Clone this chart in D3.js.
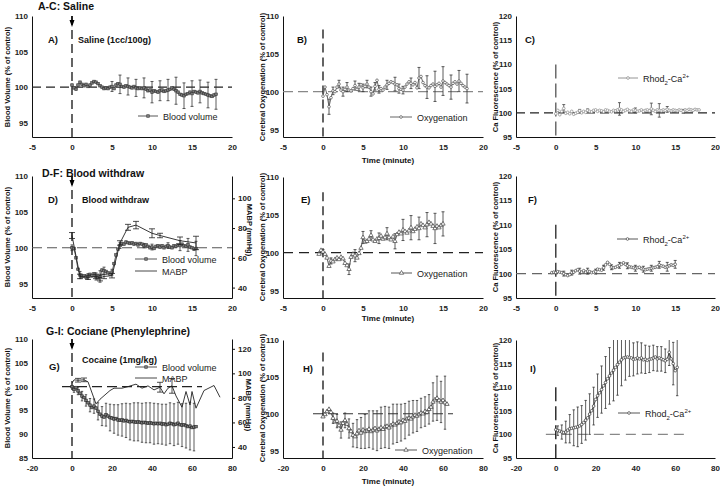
<!DOCTYPE html>
<html><head><meta charset="utf-8">
<script src="https://cdn.jsdelivr.net/npm/d3@7"></script>
<style>body{margin:0;background:#fff}svg{display:block}text{font-family:"Liberation Sans",Arial,sans-serif}</style>
</head><body><svg id="c" width="720" height="486"></svg>
<script>
// ---------- DATA ----------
const tickMin20 = [-5,0,5,10,15,20];
const tickMin80 = [-20,0,20,40,60,80];
const ticksBV = [95,100,105,110];
const ticksBVG = [85,90,95,100,105,110];
const ticksCa = [95,100,105,110,115,120];
const ticksMabpD = [40,60,80,100];
const ticksMabpG = [40,60,80,100,120];

const tQ18 = [0,0.25,0.5,0.75,1,1.25,1.5,1.75,2,2.25,2.5,2.75,3,3.25,3.5,3.75,4,4.25,4.5,4.75,5,5.25,5.5,5.75,6,6.25,6.5,6.75,7,7.25,7.5,7.75,8,8.25,8.5,8.75,9,9.25,9.5,9.75,10,10.25,10.5,10.75,11,11.25,11.5,11.75,12,12.25,12.5,12.75,13,13.25,13.5,13.75,14,14.25,14.5,14.75,15,15.25,15.5,15.75,16,16.25,16.5,16.75,17,17.25,17.5,17.75,18];
const bvA = [100.3,99.9,99.7,100.3, 100.7,100.4,100.2,100.4, 100.1,100.3,100.6,100.8, 100.7,100.5,100.2,100.0, 99.8,99.9,99.8,100.0, 100.1,99.8,100.3,100.5, 100.4,100.1,100.0,100.2, 100.1,100.0,99.9,100.1, 99.9,99.8,99.9,99.8, 99.9,99.7,99.5,99.6, 99.3,99.5,99.4,99.3, 99.5,99.6,99.4,99.5, 99.6,99.7,99.9,99.7, 99.5,99.3,99.0,98.9, 98.8,99.0,99.1,99.3, 99.1,99.4,99.3,99.2, 99.4,99.2,99.1,99.0, 98.9,98.8,98.7,98.9, 99.0];
const errTA = [5,6,7,8,9,10,11,12,13,14,15,16,17,18];
const errA = [0.7,1.3,1.2,1.2,1.4,1.5,1.4,1.5,1.9,1.8,1.8,1.6,1.8,2.1];

const oxB = [99.4,100.6,99.6,98.0, 99.2,100.1,100.0,100.6, 101.0,100.2,100.0,100.3, 100.6,100.2,100.1,100.4, 100.8,100.3,100.6,100.9, 100.5,100.7,101.0,100.6, 100.0,99.7,100.7,101.5, 100.3,100.4,100.2,100.6, 100.9,101.1,101.3,101.2, 101.0,100.9,100.4,100.3, 100.2,100.6,101.0,101.3, 101.1,100.9,101.2,100.5, 101.8,102.0,101.2,100.8, 100.6,100.5,100.8,101.0, 100.7,100.9,101.1,100.6, 101.4,101.2,101.0,100.8, 100.6,101.1,101.3,101.0, 101.4,101.1,100.8,100.6, 100.4];
const errTB = [0.75,1.25,2,2.5,3,4,4.5,5,5.5,6,6.5,7,8,9,9.5,10,11,12,13,14,15,16,17,18];
const errB = [1.0,0.5,0.5,0.6,0.6,0.6,0.5,0.5,0.5,0.6,0.5,0.5,0.6,0.9,0.6,0.5,0.7,1.4,1.5,2.0,1.9,1.6,1.4,1.9];

const caC = [99.8,100.5,99.6,100.3, 100.9,99.9,100.1,99.8, 100.3,99.7,99.9,100.1, 100.4,100.0,100.3,100.1, 100.5,100.3,100.2,100.5, 100.6,100.3,100.5,100.4, 100.2,100.6,100.5,100.3, 100.2,100.5,100.4,100.6, 100.8,100.6,100.3,100.5, 100.7,100.4,100.3,100.6, 100.5,100.3,100.4,100.6, 100.3,100.5,100.6,100.4, 100.8,100.5,100.3,100.6, 100.5,100.4,100.6,100.5, 100.7,100.5,100.4,100.6, 100.5,100.4,100.6,100.5, 100.3,100.6,100.5,100.7, 100.6,100.5,100.7,100.6, 100.6];
const errTC = [1,3,4,8,10,12,13,14,16];
const errC = [0.8,0.3,0.3,1.3,0.5,1.2,1.4,0.6,0.4];

const tD = [0,0.25,0.5,0.75,1,1.25,1.5,1.75,2,2.25,2.5,2.75,3,3.25,3.5,3.75,4,4.25,4.5,4.75,5,5.25,5.5,5.75,6,6.25,6.5,6.75,7,7.25,7.5,7.75,8,8.25,8.5,8.75,9,9.25,9.5,9.75,10,10.25,10.5,10.75,11,11.25,11.5,11.75,12,12.25,12.5,12.75,13,13.25,13.5,13.75,14,14.25,14.5,14.75,15,15.25,15.5];
const bvD = [100.0,99.9,98.6,97.0, 96.2,96.0,96.1,95.9, 96.0,96.3,96.1,96.4, 96.0,95.8,96.0,96.9, 96.8,96.7,96.5,96.3, 96.6,97.8,99.0,99.8, 100.3,100.6,100.5,100.8, 100.7,100.6,100.7,100.5, 100.6,100.4,100.6,100.5, 100.3,100.4,100.2,100.0, 100.1,99.9,100.2,100.3, 100.1,100.3,100.0,100.2, 100.3,100.1,100.0,100.3, 100.2,100.4,100.3,100.5, 100.3,100.2,100.4,100.1, 100.0,99.8,99.9];
const errTD = [0,1,2,3,3.5,4,5,6,9,10,12,13.5,14.5,15.5];
const errD = [0.4,0.5,0.4,0.5,0.8,0.5,0.4,0.4,0.3,0.4,0.4,0.7,0.9,1.0];
const tMabpD = [0,1,2,3,3.5,4,5,6,7,8,10,11,13.5,15.5];
const mabpD = [75,47.5,47,47.5,46.5,47.5,48,70,80.5,82,76.5,75,71.5,70];
const errMabpD = [2,1.5,1.5,1.5,2,1.5,1.5,1.5,2,2.5,3,1.5,2.5,4.5];

const tE = [-0.5,-0.25,0,0.25,0.5,0.75,1,1.25,1.5,1.75,2,2.25,2.5,2.75,3,3.25,3.5,3.75,4,4.25,4.5,4.75,5,5.25,5.5,5.75,6,6.25,6.5,6.75,7,7.25,7.5,7.75,8,8.25,8.5,8.75,9,9.25,9.5,9.75,10,10.25,10.5,10.75,11,11.25,11.5,11.75,12,12.25,12.5,12.75,13,13.25,13.5,13.75,14,14.25,14.5,14.75,15];
const oxE = [99.8,100.3, 100.1,99.8,99.3,98.2, 98.9,98.8,99.1,99.3, 99.1,99.4,99.2,98.6, 98.3,97.8,99.4,99.8, 99.6,99.3,99.9,100.6, 102.0,101.4,101.5,101.8, 102.3,101.7,101.5,101.8, 101.9,102.2,101.8,102.0, 102.5,102.0,101.7,102.1, 101.5,102.4,102.7,102.5, 103.0,102.8,102.6,102.9, 103.3,102.8,103.1,103.4, 103.2,103.8,103.6,103.3, 103.7,104.0,103.8,103.5, 103.2,103.5,103.3,103.6, 103.8];
const errTE = [0,1,3.25,4,5,6,7,8,9,10,11,12,13,14,15];
const errE = [0.3,0.4,0.7,0.8,0.8,0.6,0.7,0.8,1.0,1.4,1.6,1.5,1.6,2.0,1.6];

const caF = [100.2,100.3, 100.2,100.4,100.3,100.2, 100.0,99.8,99.6,99.8, 100.2,100.3,100.6,100.8, 100.5,100.3,100.6,100.3, 100.5,100.4,100.2,100.3, 100.4,100.9,100.8,100.7, 101.2,101.8,102.3,101.9, 101.3,101.2,101.3,101.5, 101.7,101.9,102.2,101.9, 101.6,101.4,101.3,101.2, 101.1,101.2,101.3,101.0, 100.9,100.8,100.9,101.0, 101.1,101.2,101.3,101.4, 101.8,101.6,101.5,101.3, 101.4,101.6,101.8,101.7, 101.9];
const errTF = [1,2,3,4,5,6,7,8,9,10,11,12,13,14,15];
const errF = [0.5,0.5,0.6,0.6,0.5,0.5,0.5,0.6,0.6,0.6,0.6,0.6,0.7,0.9,0.8];

const tMin = [0,1,2,3,4,5,6,7,8,9,10,11,12,13,14,15,16,17,18,19,20,21,22,23,24,25,26,27,28,29,30,31,32,33,34,35,36,37,38,39,40,41,42,43,44,45,46,47,48,49,50,51,52,53,54,55,56,57,58,59,60,61,62];
const bvG = [100.0,99.4,99.8,99.1,98.6,98.0,97.7,97.1,96.6,96.1, 95.6,95.9,95.5,94.8,94.2,93.8,93.6,94.1,93.8,93.5, 93.4,93.2,93.3,93.0,92.9,93.0,92.8,92.9,92.7,92.6, 92.7,92.6,92.5,92.6,92.5,92.4,92.5,92.4,92.3,92.4, 92.3,92.2,92.3,92.2,92.3,92.1,92.2,92.0,92.1,92.3, 92.2,92.0,92.1,92.3,92.0,91.9,92.0,91.8,91.6,91.7, 91.4,91.5,91.6];
const errTG = [1,3,5,7,9,11,13,15,17,19,21,23,25,27,29,31,33,35,37,39,41,43,45,47,49,51,53,55,57,59,61];
const errG = [0.6,0.8,1.0,1.2,1.4,1.5,1.8,2.0,2.4,2.8,3.0,3.2,3.4,3.6,3.8,4.0,4.0,4.1,4.2,4.2,4.3,4.2,4.2,4.3,4.3,4.4,4.4,4.5,4.7,5.0,5.0];
const tMabpG = [0,1,3,6,8,12,14,19,21,25,28,32,35,38,41,44,46,48,50,52,55,57,59,60,62,66,71,74];
const mabpG = [92.0,94.7,94.4,94.7,93.1,75.1,78.9,86.0,87.9,87.9,89.2,91.2,87.9,89.8,86.5,88.7,83.3,87.9,89.8,81.6,72.4,85.2,74.3,85.2,71.6,86.0,90.1,80.5];
const errTMabpG = [3,6,44,50];
const errMabpG = [1.5,1.5,4,6];

const oxH = [99.6,99.9,100.3,100.6,100.2,99.4,98.9,99.0,98.4,97.8, 98.7,99.1,98.6,98.0,97.6,97.1,96.9,97.3,97.7,97.4, 97.8,97.6,97.7,97.9,97.6,97.8,98.0,97.7,97.9,98.1, 97.9,98.2,98.3,98.1,98.4,98.6,98.5,98.7,98.9,98.8, 99.1,99.0,99.3,99.4,99.3,99.6,99.8,99.7,99.9,100.1, 100.0,100.3,100.2,100.6,100.9,101.6,101.9,102.1,101.8,101.6, 101.8,101.5,101.3];
const errTH = [5,7,9,11,13,15,17,19,21,23,25,27,29,31,33,35,37,39,41,43,45,47,49,51,53,55,57,59,61];
const errH = [0.7,0.9,1.1,1.0,1.3,1.6,1.9,2.1,2.3,2.5,2.6,2.7,2.8,2.8,2.8,2.7,2.6,2.5,2.4,2.3,2.2,2.1,2.0,2.0,2.0,2.6,3.0,2.8,3.6];

const caI = [101.0,100.8,100.7,100.5,100.4,100.5,100.9,101.2,101.3,101.4, 101.5,101.6,101.8,102.1,102.5,103.0,103.5,104.3,105.0,106.0, 107.4,108.2,108.8,109.5,110.3,111.0,111.8,112.4,113.0,113.6, 114.2,114.8,115.3,115.8,116.2,116.3,116.4,116.3,116.2,115.9, 116.0,116.2,116.0,116.2,115.8,115.9,115.7,115.9,116.0,116.2, 116.4,116.0,116.2,116.0,115.8,115.6,115.9,117.4,116.0,115.0, 113.5,114.2];
const errTI = [1,3,5,7,9,11,13,15,17,19,21,23,25,27,29,31,33,35,37,39,41,43,45,47,49,51,53,55,57,59,61];
const errI = [1.0,1.5,2.3,3.0,3.8,4.2,4.0,4.2,4.3,4.0,4.6,5.0,5.5,6.0,6.5,6.5,5.5,4.8,4.0,3.5,3.4,3.2,3.0,2.8,2.7,2.6,2.6,2.5,2.8,4.5,6.0];

// ---------- DRAWING ----------
const svg = d3.select('#c');
const zip = (a, b) => a.slice(0, Math.min(a.length, b.length)).map((t, i) => [t, b[i]]);

function marker(g, kind, cx, cy, col) {
  if (kind === 'sq') {
    g.append('rect').attr('x', cx - 1.3).attr('y', cy - 1.3).attr('width', 2.6).attr('height', 2.6)
      .attr('fill', '#777').attr('stroke', col).attr('stroke-width', 0.6);
  } else if (kind === 'tri') {
    g.append('path').attr('d', d3.symbol(d3.symbolTriangle, 8)()).attr('transform', `translate(${cx},${cy})`)
      .attr('fill', '#fff').attr('stroke', col).attr('stroke-width', 0.7);
  } else {
    g.append('circle').attr('cx', cx).attr('cy', cy).attr('r', 1.35)
      .attr('fill', '#fff').attr('stroke', col).attr('stroke-width', 0.7);
  }
}

function errBars(g, x, y, pts, et, ev, col, cap) {
  const yd = y.domain();
  et.forEach((t, i) => {
    const p = pts.find(d => Math.abs(d[0] - t) < 1e-6);
    if (!p) return;
    const lo = Math.max(yd[0], p[1] - ev[i]), hi = Math.min(yd[1], p[1] + ev[i]);
    const X = x(t);
    g.append('line').attr('x1', X).attr('x2', X).attr('y1', y(lo)).attr('y2', y(hi)).attr('stroke', col).attr('stroke-width', 0.8);
    [[lo, p[1] - ev[i]], [hi, p[1] + ev[i]]].forEach(([v, raw]) => {
      if (Math.abs(v - raw) < 1e-6)
        g.append('line').attr('x1', X - cap).attr('x2', X + cap).attr('y1', y(v)).attr('y2', y(v)).attr('stroke', col).attr('stroke-width', 0.8);
    });
  });
}

function series(g, x, y, pts, kind, col, lineCol) {
  g.append('path').datum(pts).attr('fill', 'none').attr('stroke', lineCol).attr('stroke-width', 0.9)
    .attr('d', d3.line().x(d => x(d[0])).y(d => y(d[1])));
  if (kind) pts.forEach(d => marker(g, kind, x(d[0]), y(d[1]), col));
}

function axes(g, x, y, xt, yt) {
  const bx = g.append('g').attr('transform', `translate(0,${y.range()[0]})`)
    .call(d3.axisBottom(x).tickValues(xt).tickSize(0).tickSizeOuter(0).tickPadding(7).tickFormat(d => String(d)));
  const ly = g.append('g').attr('transform', `translate(${x.range()[0]},0)`)
    .call(d3.axisLeft(y).tickValues(yt).tickSize(0).tickSizeOuter(0).tickPadding(4).tickFormat(d => String(d)));
  [bx, ly].forEach(a => {
    a.select('.domain').attr('stroke', '#111').attr('stroke-width', 1);
    a.selectAll('text').attr('font-size', 8).attr('font-weight', 'bold').attr('fill', '#222')
      .attr('font-family', '"Liberation Sans",Arial,sans-serif');
  });
}

function refLines(g, x, y, hx, vTop, hCol, hDash, vCol, vDash) {
  g.append('line').attr('x1', x(hx[0])).attr('x2', x(hx[1])).attr('y1', y(100)).attr('y2', y(100))
    .attr('stroke', hCol).attr('stroke-width', 1.2).attr('stroke-dasharray', hDash);
  g.append('line').attr('x1', x(0)).attr('x2', x(0)).attr('y1', y(vTop)).attr('y2', y.range()[0])
    .attr('stroke', vCol).attr('stroke-width', 1.3).attr('stroke-dasharray', vDash);
}

function arrow(g, X, Y0) {
  g.append('line').attr('x1', X).attr('x2', X).attr('y1', Y0).attr('y2', Y0 + 6).attr('stroke', '#000').attr('stroke-width', 1.3);
  g.append('path').attr('d', `M${X - 2.5},${Y0 + 4}L${X + 2.5},${Y0 + 4}L${X},${Y0 + 11}Z`).attr('fill', '#000');
}

function txt(x, y, s, size, weight, anchor, rot) {
  const t = svg.append('text').attr('x', x).attr('y', y).text(s).attr('font-size', size)
    .attr('font-weight', weight || 'normal').attr('fill', '#111').attr('text-anchor', anchor || 'start');
  if (rot) t.attr('transform', `rotate(${rot},${x},${y})`);
  return t;
}

function legend(g, x0, x1, yy, label, kind, col, isRhod) {
  g.append('line').attr('x1', x0).attr('x2', x1).attr('y1', yy).attr('y2', yy).attr('stroke', col).attr('stroke-width', 0.9);
  if (kind) marker(g, kind, (x0 + x1) / 2, yy, col);
  const t = g.append('text').attr('x', x1 + 5).attr('y', yy + 3.5).attr('font-size', 9).attr('fill', '#222');
  if (isRhod) {
    t.append('tspan').text('Rhod');
    t.append('tspan').attr('dy', 3).attr('font-size', 6).text('2');
    t.append('tspan').attr('dy', -3).text('-Ca');
    t.append('tspan').attr('dy', -4).attr('font-size', 6).text('2+');
  } else t.text(label);
}

// ---- Panel A ----
{
  const g = svg.append('g');
  const x = d3.scaleLinear().domain([-5, 20]).range([32, 232]);
  const y = d3.scaleLinear().domain([93, 110]).range([137, 16]);
  axes(g, x, y, tickMin20, ticksBV);
  refLines(g, x, y, [-5, 20], 110, '#222', '9,5', '#111', '9,5');
  arrow(g, x(0), 16);
  const pts = zip(tQ18, bvA);
  errBars(g, x, y, pts, errTA, errA, '#333', 1.5);
  series(g, x, y, pts, 'sq', '#333', '#444');
  legend(g, 138, 158, 116, 'Blood volume', 'sq', '#444');
  txt(48, 43, 'A)', 9.5, 'bold');
  txt(78, 43, 'Saline (1cc/100g)', 9, 'bold');
}
// ---- Panel B ----
{
  const g = svg.append('g');
  const x = d3.scaleLinear().domain([-5, 20]).range([283, 483]);
  const y = d3.scaleLinear().domain([94, 110]).range([137, 16]);
  axes(g, x, y, tickMin20, ticksBV);
  refLines(g, x, y, [-5, 20], 108.2, '#888', '10,5', '#111', '9,5');
  const pts = zip(tQ18, oxB);
  errBars(g, x, y, pts, errTB, errB, '#333', 1.5);
  series(g, x, y, pts, 'circ', '#555', '#555');
  legend(g, 390, 412, 117, 'Oxygenation', 'circ', '#555');
  txt(297, 43, 'B)', 9.5, 'bold');
}
// ---- Panel C ----
{
  const g = svg.append('g');
  const x = d3.scaleLinear().domain([-5, 20]).range([516, 715]);
  const y = d3.scaleLinear().domain([95, 120]).range([137, 16]);
  axes(g, x, y, tickMin20, ticksCa);
  refLines(g, x, y, [-5, 20], 110, '#222', '9,5', '#555', '14,5');
  const pts = zip(tQ18, caC);
  errBars(g, x, y, pts, errTC, errC, '#444', 1.5);
  series(g, x, y, pts, 'circ', '#888', '#999');
  legend(g, 618, 638, 78, '', 'circ', '#888', true);
  txt(525, 43, 'C)', 9.5, 'bold');
}
// ---- Panel D ----
{
  const g = svg.append('g');
  const x = d3.scaleLinear().domain([-5, 20]).range([32, 232]);
  const y = d3.scaleLinear().domain([93, 110]).range([298, 176]);
  const yR = d3.scaleLinear().domain([33, 115]).range([298, 176]);
  axes(g, x, y, tickMin20, ticksBV);
  const ra = g.append('g').attr('transform', 'translate(232,0)')
    .call(d3.axisRight(yR).tickValues(ticksMabpD).tickSize(3).tickSizeOuter(0).tickPadding(3));
  ra.select('.domain').attr('stroke', '#111');
  ra.selectAll('line').attr('stroke', '#111');
  ra.selectAll('text').attr('font-size', 8).attr('font-weight', 'bold').attr('fill', '#222');
  refLines(g, x, y, [-5, 20], 110, '#555', '10,5', '#111', '9,5');
  arrow(g, x(0), 176);
  const pts = zip(tD, bvD);
  errBars(g, x, y, pts, errTD, errD, '#333', 1.5);
  series(g, x, y, pts, 'sq', '#333', '#444');
  const mp = zip(tMabpD, mabpD);
  errBars(g, x, yR, mp, tMabpD, errMabpD, '#222', 3);
  series(g, x, yR, mp, null, '#222', '#222');
  legend(g, 135, 157, 259, 'Blood volume', 'sq', '#444');
  legend(g, 135, 157, 271, 'MABP', null, '#333');
  txt(48, 203, 'D)', 9.5, 'bold');
  txt(82, 203, 'Blood withdraw', 9, 'bold');
}
// ---- Panel E ----
{
  const g = svg.append('g');
  const x = d3.scaleLinear().domain([-5, 20]).range([283, 483]);
  const y = d3.scaleLinear().domain([94, 110]).range([298, 177]);
  axes(g, x, y, tickMin20, ticksBV);
  refLines(g, x, y, [-5, 20], 108, '#222', '10,6', '#111', '9,5');
  const pts = zip(tE, oxE);
  errBars(g, x, y, pts, errTE, errE, '#333', 1.5);
  series(g, x, y, pts, 'tri', '#444', '#444');
  legend(g, 391, 412, 273, 'Oxygenation', 'tri', '#444');
  txt(301, 203, 'E)', 9.5, 'bold');
}
// ---- Panel F ----
{
  const g = svg.append('g');
  const x = d3.scaleLinear().domain([-5, 20]).range([516, 715]);
  const y = d3.scaleLinear().domain([95, 120]).range([298, 176]);
  axes(g, x, y, tickMin20, ticksCa);
  refLines(g, x, y, [-5, 20], 110, '#666', '10,6', '#222', '14,5');
  const pts = zip(tE, caF);
  errBars(g, x, y, pts, errTF, errF, '#333', 1.5);
  series(g, x, y, pts, 'circ', '#444', '#555');
  legend(g, 617, 638, 239, '', 'circ', '#444', true);
  txt(528, 203, 'F)', 9.5, 'bold');
}
// ---- Panel G ----
{
  const g = svg.append('g');
  const x = d3.scaleLinear().domain([-20, 80]).range([32, 232]);
  const y = d3.scaleLinear().domain([85, 110]).range([458, 339]);
  const yR = d3.scaleLinear().domain([31, 128]).range([458, 339]);
  axes(g, x, y, tickMin80, ticksBVG);
  const ra = g.append('g').attr('transform', 'translate(232,0)')
    .call(d3.axisRight(yR).tickValues(ticksMabpG).tickSize(3).tickSizeOuter(0).tickPadding(3));
  ra.select('.domain').attr('stroke', '#111');
  ra.selectAll('line').attr('stroke', '#111');
  ra.selectAll('text').attr('font-size', 8).attr('font-weight', 'bold').attr('fill', '#222');
  refLines(g, x, y, [-5, 65], 110, '#222', '10,5', '#111', '9,5');
  arrow(g, x(0), 339);
  const pts = zip(tMin, bvG);
  errBars(g, x, y, pts, errTG, errG, '#333', 1.2);
  series(g, x, y, pts, 'sq', '#222', '#222');
  const mp = zip(tMabpG, mabpG);
  errBars(g, x, yR, mp, errTMabpG, errMabpG, '#222', 3);
  series(g, x, yR, mp, null, '#222', '#222');
  legend(g, 135, 157, 367, 'Blood volume', 'sq', '#444');
  legend(g, 135, 157, 378, 'MABP', null, '#333');
  txt(49, 370, 'G)', 9.5, 'bold');
  txt(82, 363, 'Cocaine (1mg/kg)', 9, 'bold');
}
// ---- Panel H ----
{
  const g = svg.append('g');
  const x = d3.scaleLinear().domain([-20, 80]).range([283, 483]);
  const y = d3.scaleLinear().domain([94, 110]).range([458, 340]);
  axes(g, x, y, tickMin80, ticksBV);
  refLines(g, x, y, [-5, 65], 108.3, '#333', '10,5', '#111', '9,5');
  const pts = zip(tMin, oxH);
  errBars(g, x, y, pts, errTH, errH, '#333', 1.2);
  series(g, x, y, pts, 'tri', '#333', '#333');
  legend(g, 395, 417, 450, 'Oxygenation', 'tri', '#444');
  txt(303, 372, 'H)', 9.5, 'bold');
}
// ---- Panel I ----
{
  const g = svg.append('g');
  const x = d3.scaleLinear().domain([-20, 80]).range([516, 715]);
  const y = d3.scaleLinear().domain([95, 120]).range([458, 340]);
  axes(g, x, y, tickMin80, ticksCa);
  refLines(g, x, y, [-5, 65], 110, '#888', '10,6', '#111', '14,5');
  const pts = zip(tMin, caI);
  errBars(g, x, y, pts, errTI, errI, '#333', 1.2);
  series(g, x, y, pts, 'circ', '#333', '#222');
  legend(g, 618, 640, 413, '', 'circ', '#444', true);
  txt(530, 372, 'I)', 9.5, 'bold');
}

// ---- titles & axis labels ----
txt(38, 9.5, 'A-C: Saline', 10.5, 'bold');
txt(42, 177, 'D-F: Blood withdraw', 10.5, 'bold');
txt(46, 335, 'G-I: Cociane (Phenylephrine)', 10.5, 'bold');
[[163], [321], [484]].forEach(([yy]) => txt(388, yy, 'Time (minute)', 8, 'bold', 'middle'));
[[77], [237], [398]].forEach(([cy]) => {
  txt(10, cy, 'Blood Volume (% of  control)', 7.5, 'bold', 'middle', -90);
  txt(265, cy, 'Cerebral Oxygenation (% of  control)', 7.5, 'bold', 'middle', -90);
  txt(498, cy, 'Ca Fluorescence (% of  control)', 7.5, 'bold', 'middle', -90);
});
txt(247, 230, 'MABP (mmHg)', 7.5, 'bold', 'middle', 90);
txt(246, 405, 'MABP (mmHg)', 7.5, 'bold', 'middle', 90);
</script></body></html>
